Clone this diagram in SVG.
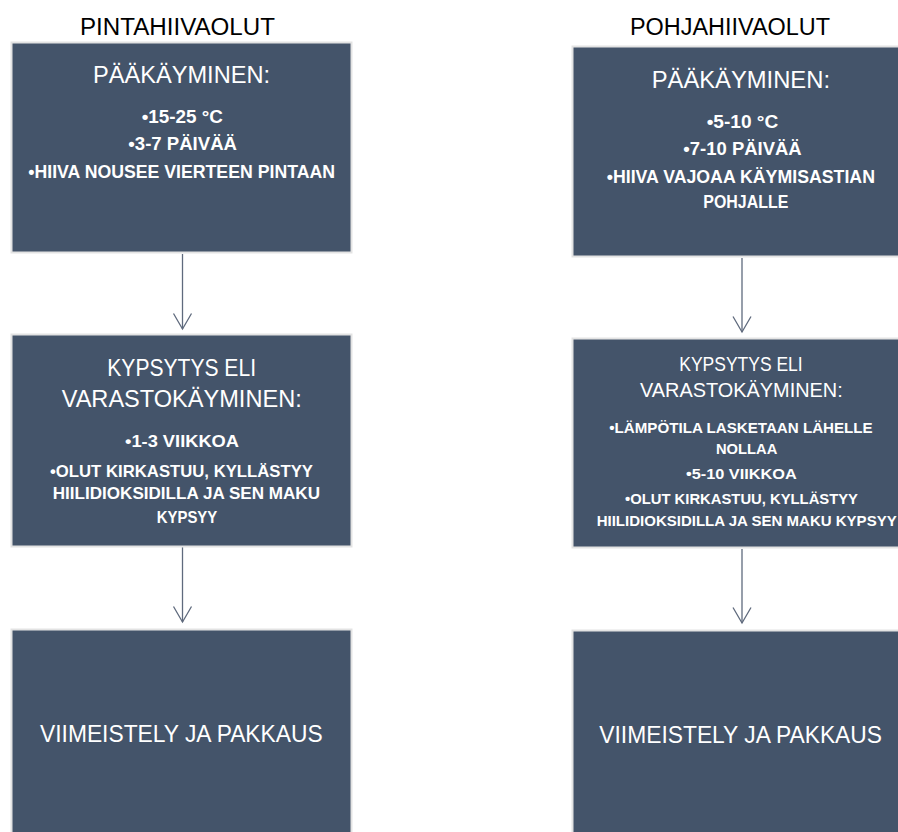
<svg xmlns="http://www.w3.org/2000/svg" width="898" height="832" viewBox="0 0 898 832">
<style>
.box{fill:#44546A;stroke:#e3e3e3;stroke-width:2}
.t{font-family:"Liberation Sans",Arial,sans-serif;fill:#ffffff}
.h{font-size:24px}
.b{font-weight:bold}
.ttl{font-family:"Liberation Sans",Arial,sans-serif;font-size:23.5px;fill:#000000}
.conn{stroke:#5f6a7d;stroke-width:1.3;fill:none}
</style>
<defs>
<marker id="arr" markerUnits="userSpaceOnUse" markerWidth="20" markerHeight="22" viewBox="-18 -11 20 22" refX="0" refY="0" orient="auto">
<path d="M-15.5,-9 L0,0 L-15.5,9" fill="none" stroke="#5f6a7d" stroke-width="1.3"/>
</marker>
</defs>
<rect width="898" height="832" fill="#ffffff"/>
<g id="titles">
<text class="ttl" x="80" y="35" textLength="195" lengthAdjust="spacingAndGlyphs">PINTAHIIVAOLUT</text>
<text class="ttl" x="630" y="35" textLength="200" lengthAdjust="spacingAndGlyphs">POHJAHIIVAOLUT</text>
</g>
<g id="connectors">
<line class="conn" x1="182.5" y1="254" x2="182.5" y2="329" marker-end="url(#arr)"/>
<line class="conn" x1="182.5" y1="547" x2="182.5" y2="622" marker-end="url(#arr)"/>
<line class="conn" x1="742" y1="258" x2="742" y2="332" marker-end="url(#arr)"/>
<line class="conn" x1="742" y1="549" x2="742" y2="623" marker-end="url(#arr)"/>
</g>
<g id="left-paakayminen">
<rect class="box" x="11.5" y="42.5" width="340" height="210"/>
<text class="t h" x="93" y="83" textLength="177" lengthAdjust="spacingAndGlyphs">PÄÄKÄYMINEN:</text>
<text class="t b" font-size="17.5" x="141.7" y="123" textLength="81.3" lengthAdjust="spacingAndGlyphs">•15-25 °C</text>
<text class="t b" font-size="17.5" x="128.3" y="150" textLength="108.7" lengthAdjust="spacingAndGlyphs">•3-7 PÄIVÄÄ</text>
<text class="t b" font-size="17.5" x="28.3" y="178" textLength="306.7" lengthAdjust="spacingAndGlyphs">•HIIVA NOUSEE VIERTEEN PINTAAN</text>
</g>
<g id="right-paakayminen">
<rect class="box" x="572.5" y="46.5" width="338" height="210"/>
<text class="t h" x="651.7" y="88" textLength="178.3" lengthAdjust="spacingAndGlyphs">PÄÄKÄYMINEN:</text>
<text class="t b" font-size="17.5" x="706.7" y="128" textLength="71.6" lengthAdjust="spacingAndGlyphs">•5-10 °C</text>
<text class="t b" font-size="17.5" x="683.3" y="155" textLength="118.4" lengthAdjust="spacingAndGlyphs">•7-10 PÄIVÄÄ</text>
<text class="t b" font-size="17.5" x="606.7" y="183" textLength="268.3" lengthAdjust="spacingAndGlyphs">•HIIVA VAJOAA KÄYMISASTIAN</text>
<text class="t b" font-size="17.5" x="703.3" y="208" textLength="85" lengthAdjust="spacingAndGlyphs">POHJALLE</text>
</g>
<g id="left-kypsytys">
<rect class="box" x="11.5" y="334.5" width="340" height="212"/>
<text class="t" font-size="23.5" x="107.3" y="376" textLength="148.7" lengthAdjust="spacingAndGlyphs">KYPSYTYS ELI</text>
<text class="t" font-size="23.5" x="61.7" y="406.5" textLength="240" lengthAdjust="spacingAndGlyphs">VARASTOKÄYMINEN:</text>
<text class="t b" font-size="16.7" x="125" y="446.5" textLength="114" lengthAdjust="spacingAndGlyphs">•1-3 VIIKKOA</text>
<text class="t b" font-size="16.7" x="50" y="476.5" textLength="263" lengthAdjust="spacingAndGlyphs">•OLUT KIRKASTUU, KYLLÄSTYY</text>
<text class="t b" font-size="16.7" x="52.7" y="498.5" textLength="267.3" lengthAdjust="spacingAndGlyphs">HIILIDIOKSIDILLA JA SEN MAKU</text>
<text class="t b" font-size="16.7" x="156.7" y="522.5" textLength="60.6" lengthAdjust="spacingAndGlyphs">KYPSYY</text>
</g>
<g id="right-kypsytys">
<rect class="box" x="572.5" y="338.5" width="338" height="209"/>
<text class="t" font-size="19.7" x="679.3" y="370.5" textLength="123.4" lengthAdjust="spacingAndGlyphs">KYPSYTYS ELI</text>
<text class="t" font-size="19.7" x="640" y="397.3" textLength="202.7" lengthAdjust="spacingAndGlyphs">VARASTOKÄYMINEN:</text>
<text class="t b" font-size="15" x="609.3" y="432.7" textLength="263.4" lengthAdjust="spacingAndGlyphs">•LÄMPÖTILA LASKETAAN LÄHELLE</text>
<text class="t b" font-size="15" x="716" y="454" textLength="61.3" lengthAdjust="spacingAndGlyphs">NOLLAA</text>
<text class="t b" font-size="15" x="686" y="479.3" textLength="110.7" lengthAdjust="spacingAndGlyphs">•5-10 VIIKKOA</text>
<text class="t b" font-size="15" x="625" y="504" textLength="233" lengthAdjust="spacingAndGlyphs">•OLUT KIRKASTUU, KYLLÄSTYY</text>
<text class="t b" font-size="15" x="596.7" y="526" textLength="300" lengthAdjust="spacingAndGlyphs">HIILIDIOKSIDILLA JA SEN MAKU KYPSYY</text>
</g>
<g id="left-viimeistely">
<rect class="box" x="11.5" y="629.5" width="340" height="215"/>
<text class="t h" x="40" y="741.7" textLength="282.7" lengthAdjust="spacingAndGlyphs">VIIMEISTELY JA PAKKAUS</text>
</g>
<g id="right-viimeistely">
<rect class="box" x="572.5" y="630.5" width="338" height="215"/>
<text class="t h" x="599.3" y="743.3" textLength="282.7" lengthAdjust="spacingAndGlyphs">VIIMEISTELY JA PAKKAUS</text>
</g>
</svg>
